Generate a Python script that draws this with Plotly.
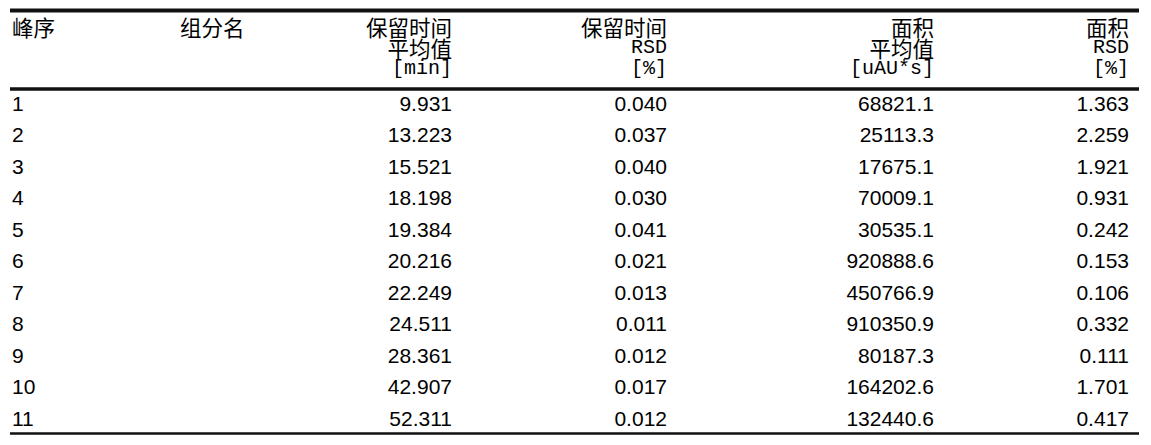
import plotly.graph_objects as go

# table data
peak_no = [1, 2, 3, 4, 5, 6, 7, 8, 9, 10, 11]
component = [""] * 11
rt_mean = ["9.931", "13.223", "15.521", "18.198", "19.384", "20.216",
           "22.249", "24.511", "28.361", "42.907", "52.311"]
rt_rsd = ["0.040", "0.037", "0.040", "0.030", "0.041", "0.021",
          "0.013", "0.011", "0.012", "0.017", "0.012"]
area_mean = ["68821.1", "25113.3", "17675.1", "70009.1", "30535.1", "920888.6",
             "450766.9", "910350.9", "80187.3", "164202.6", "132440.6"]
area_rsd = ["1.363", "2.259", "1.921", "0.931", "0.242", "0.153",
            "0.106", "0.332", "0.111", "1.701", "0.417"]

headers = [
    ["峰序"],
    ["组分名"],
    ["保留时间", "平均值", "[min]"],
    ["保留时间", "RSD", "[%]"],
    ["面积", "平均值", "[uAU*s]"],
    ["面积", "RSD", "[%]"],
]

# layout of the columns (x anchor in px, alignment)
col_x = [12, 180, 452, 667, 934, 1129]
col_side = ["left", "left", "right", "right", "right", "right"]
columns = [[str(v) for v in peak_no], component, rt_mean, rt_rsd, area_mean, area_rsd]

W, H = 1151, 445
row0_px, row_step = 105.3, 31.5


def row_of(px):
    # convert a pixel height to row units on the y axis
    return 1 + (px - row0_px) / row_step


CJK = "Noto Sans CJK SC, sans-serif"
MONO = "Liberation Mono, monospace"
DATA = "Liberation Sans, Arial, sans-serif"

fig = go.Figure()

rows = list(range(1, len(peak_no) + 1))
for vals, x, side in zip(columns, col_x, col_side):
    if not any(vals):
        continue
    fig.add_trace(go.Scatter(
        x=[x] * len(vals), y=rows, text=vals, mode="text",
        textposition="middle right" if side == "left" else "middle left",
        textfont=dict(family=DATA, size=21, color="#000"),
        hoverinfo="skip", showlegend=False,
    ))

head_px = [27, 48, 69]
for lines, x, side in zip(headers, col_x, col_side):
    for i, s in enumerate(lines):
        latin = all(ord(c) < 128 for c in s)
        # CJK glyphs sit high in their box, nudge them down a little
        y_px = head_px[i] if latin else head_px[i] + 4
        fig.add_trace(go.Scatter(
            x=[x], y=[row_of(y_px)], text=[s], mode="text",
            textposition="middle right" if side == "left" else "middle left",
            textfont=dict(family=MONO if latin else CJK, size=20 if latin else 21.5,
                          color="#000"),
            hoverinfo="skip", showlegend=False,
        ))

# horizontal rules
rules = [(10.5, 4), (89, 3.5), (433.5, 2.5)]
for px, w in rules:
    fig.add_shape(type="line", xref="x", yref="y", x0=10, x1=1139,
                  y0=row_of(px), y1=row_of(px), line=dict(color="#111", width=w))

fig.update_layout(
    width=W, height=H,
    margin=dict(l=0, r=0, t=0, b=0),
    paper_bgcolor="white", plot_bgcolor="white",
    xaxis=dict(range=[0, W], visible=False, fixedrange=True),
    yaxis=dict(range=[row_of(H), row_of(0)], visible=False, fixedrange=True),
)

# the page body has a default 8px margin; drop it so the table sits at 0,0
fig.write_html("out.html", config={"displayModeBar": False},
               post_script="document.body.style.margin='0';")
